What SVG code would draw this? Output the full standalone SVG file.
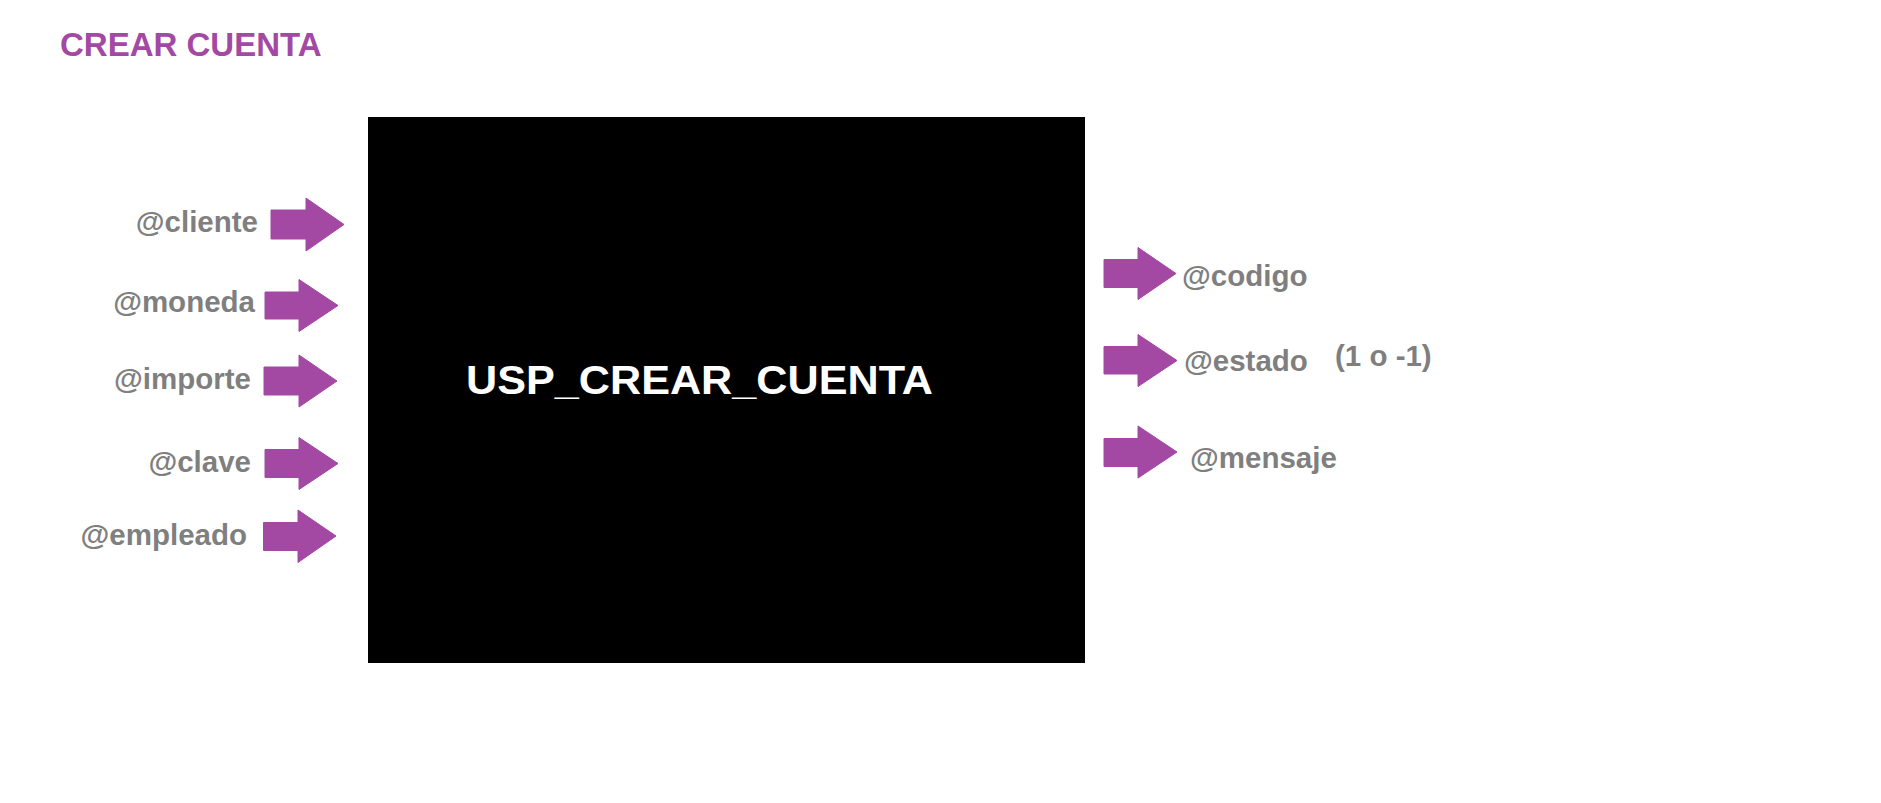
<svg xmlns="http://www.w3.org/2000/svg" width="1881" height="803" viewBox="0 0 1881 803">
<style>
.lbl{font-family:"Liberation Sans",Arial,sans-serif;font-weight:bold;font-size:29.5px;fill:#7f7f7f}
.arr{fill:#A349A4;stroke:#A349A4;stroke-width:1;stroke-linejoin:round}
.title{font-family:"Liberation Sans",Arial,sans-serif;font-weight:bold;font-size:33px;fill:#A349A4}
.main{font-family:"Liberation Sans",Arial,sans-serif;font-weight:bold;font-size:41px;fill:#ffffff}
</style>
<rect width="1881" height="803" fill="#ffffff"/>
<text id="title" class="title" x="60" y="56">CREAR CUENTA</text>
<g id="proc">
<rect x="368" y="117" width="717" height="546" fill="#000000"/>
<text class="main" x="466" y="394" textLength="467" lengthAdjust="spacingAndGlyphs">USP_CREAR_CUENTA</text>
</g>
<g id="in_cliente"><text class="lbl" x="258" y="232" text-anchor="end">@cliente</text></g>
<g id="in_moneda"><text class="lbl" x="255" y="312" text-anchor="end">@moneda</text></g>
<g id="in_importe"><text class="lbl" x="251" y="389" text-anchor="end">@importe</text></g>
<g id="in_clave"><text class="lbl" x="251" y="472" text-anchor="end">@clave</text></g>
<g id="in_empleado"><text class="lbl" x="247" y="545" text-anchor="end">@empleado</text></g>
<g id="out_codigo"><text class="lbl" x="1182" y="286">@codigo</text></g>
<g id="out_estado"><text class="lbl" x="1184" y="371">@estado</text><text class="lbl" x="1335" y="366">(1 o -1)</text></g>
<g id="out_mensaje"><text class="lbl" x="1190" y="468">@mensaje</text></g>
<g id="connectors">
<path class="arr" d="M271,210 H306 V198 L344,224.5 L306,251 V239 H271 Z"/>
<path class="arr" d="M265,292 H299 V279.5 L338,305.5 L299,331.5 V319 H265 Z"/>
<path class="arr" d="M264,367 H299 V355 L337,381 L299,407 V395 H264 Z"/>
<path class="arr" d="M265,449.5 H299 V437.5 L338,463.5 L299,489.5 V477.5 H265 Z"/>
<path class="arr" d="M263.5,522.5 H298 V510 L336,536 L298,562.5 V550.5 H263.5 Z"/>
<path class="arr" d="M1104,259.5 H1138 V247.5 L1176,273.5 L1138,299.5 V287.5 H1104 Z"/>
<path class="arr" d="M1104,346.5 H1138 V334.5 L1177,360.5 L1138,386.5 V374 H1104 Z"/>
<path class="arr" d="M1104,438.5 H1138 V426 L1177,452 L1138,478 V466.5 H1104 Z"/>
</g>
</svg>
